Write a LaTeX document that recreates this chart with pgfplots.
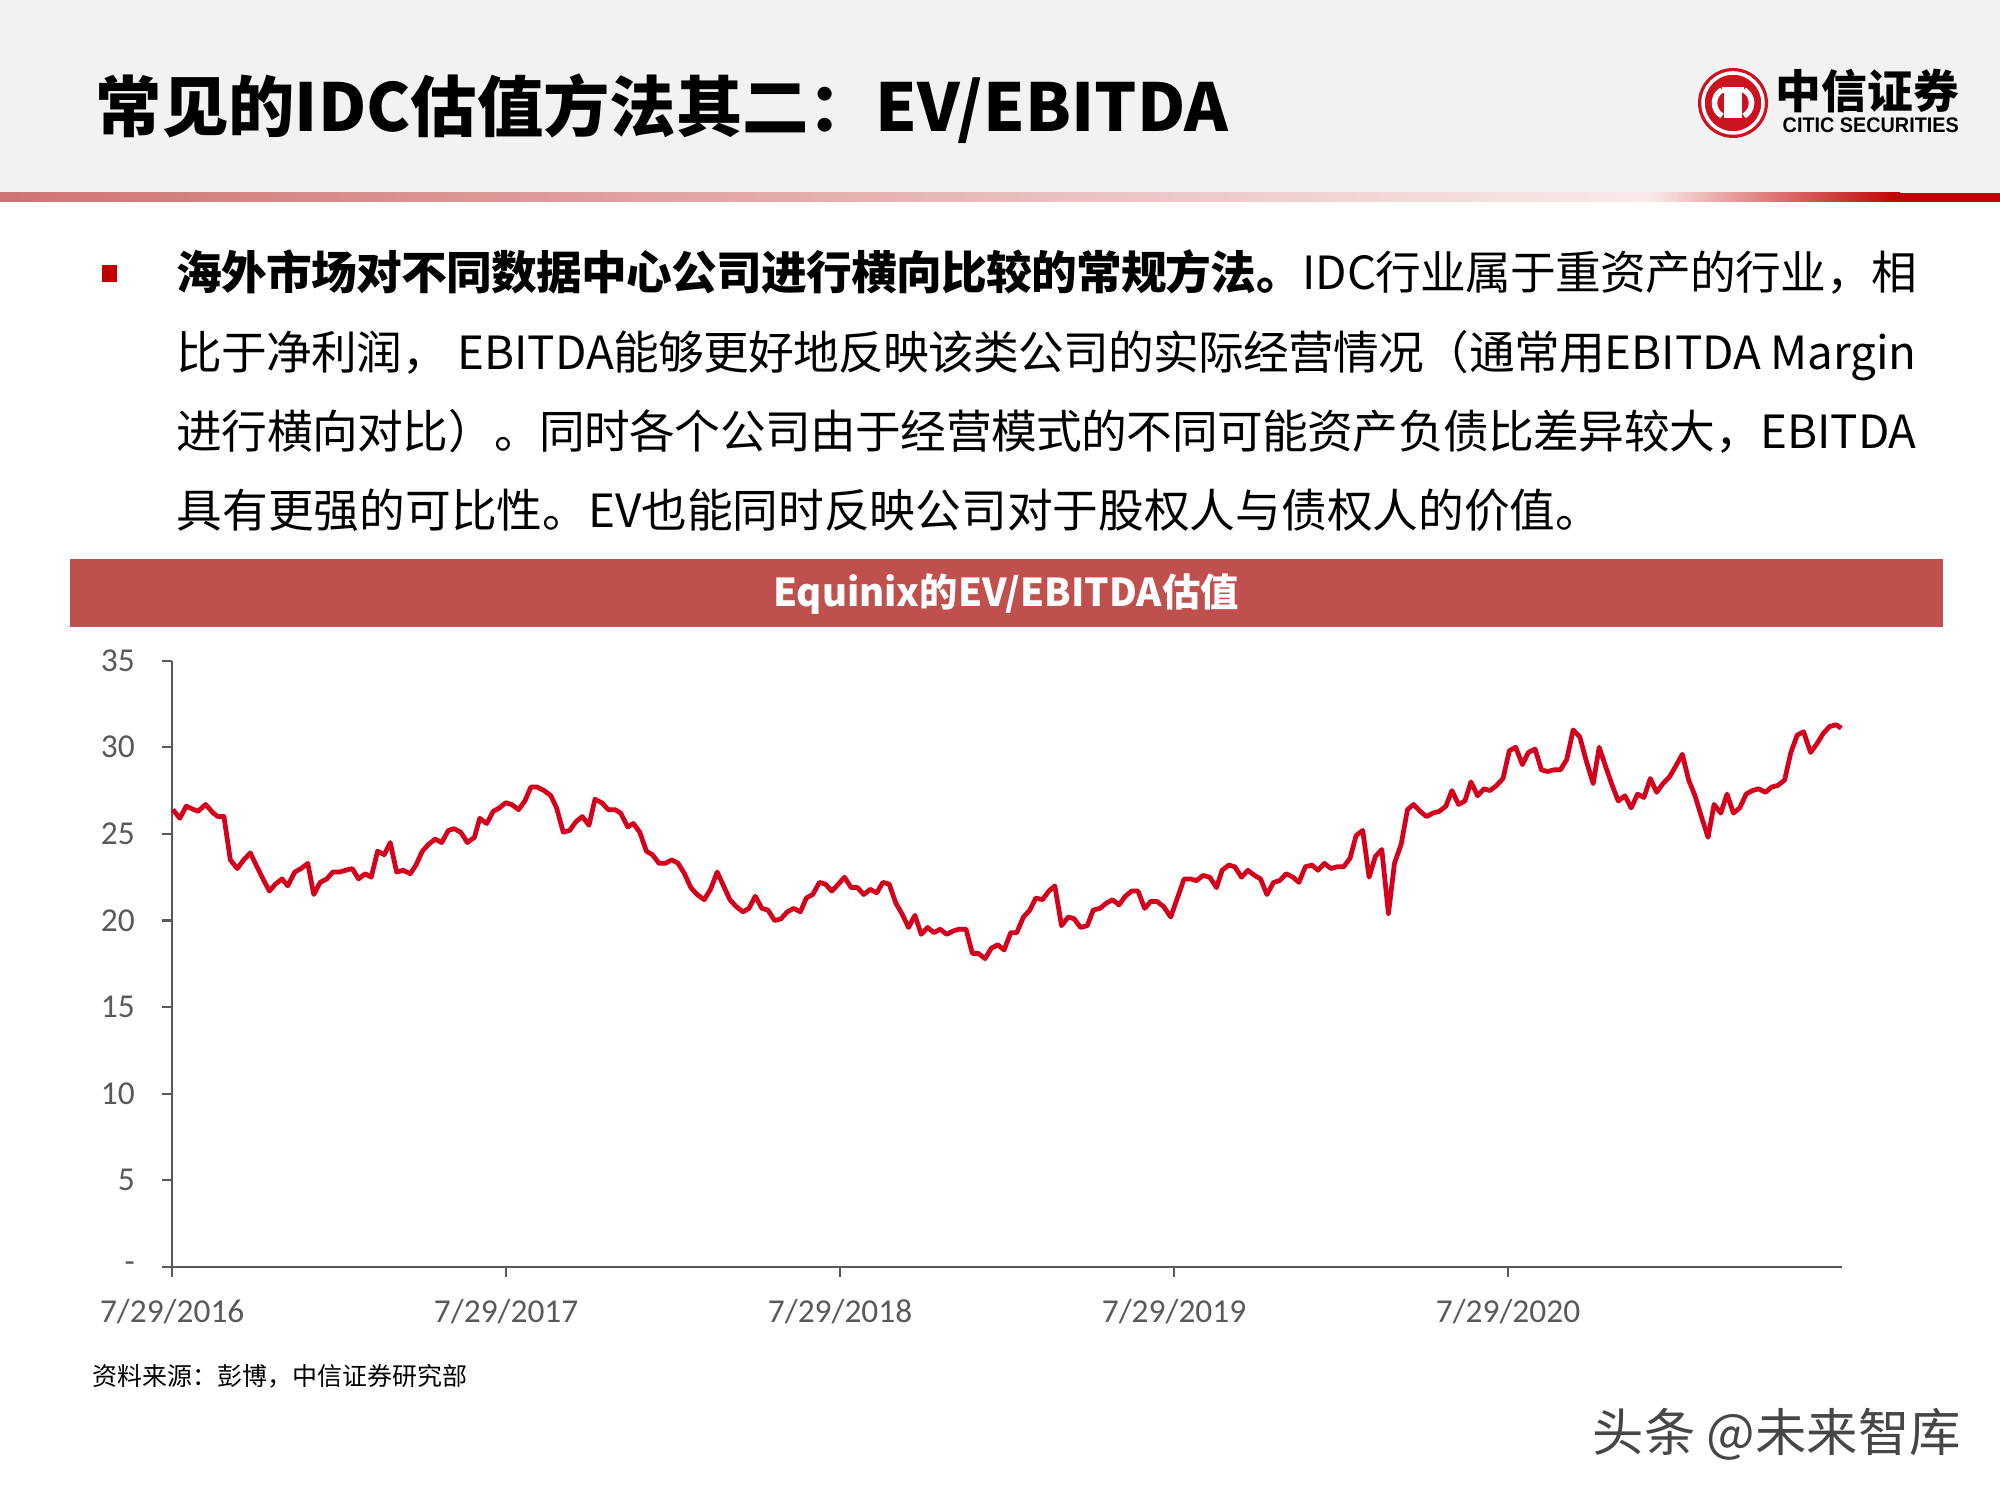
\documentclass[border=0pt]{standalone}
\usepackage{pgfplots}
\pgfplotsset{compat=1.18}
\usepackage{fontspec}
\usepackage{graphicx}
\setmainfont{Carlito}
\newfontfamily\cjk{Noto Sans CJK SC}
\newfontfamily\arial{Liberation Sans}
\definecolor{hdrgray}{RGB}{242,242,242}
\definecolor{band}{RGB}{192,80,77}
\definecolor{linered}{RGB}{213,0,28}
\definecolor{tickgray}{RGB}{89,89,89}
\definecolor{citic}{RGB}{204,18,30}
\definecolor{darkred}{RGB}{192,0,0}
\definecolor{roseL}{RGB}{207,115,115}
\definecolor{roseM}{RGB}{249,234,234}
\definecolor{wmgray}{RGB}{70,70,70}

\begin{document}
\begin{tikzpicture}[x=0.01cm,y=0.01cm]
\path[use as bounding box] (0,0) rectangle (2000,1500);
\fill[white] (0,0) rectangle (2000,1500);
% header
\fill[hdrgray] (0,1307) rectangle (2000,1500);
\shade[left color=roseL, right color=roseM] (0,1298) rectangle (1650,1307);
\shade[left color=roseM, right color=darkred] (1650,1298) rectangle (1900,1307);
\fill[darkred] (1899,1298) rectangle (2000,1307);
\node[anchor=west, inner sep=0] at (95,1391) {\resizebox{11.32cm}{\height}{\cjk\bfseries\fontsize{18.8pt}{20pt}\selectfont 常见的IDC估值方法其二：EV/EBITDA}};
% logo
\fill[citic] (1733,1397) circle (35);
\draw[white, line width=1pt] (1733,1397) circle (30);
\begin{scope}[white, line width=1.6pt]
  \draw (1722,1410) arc (120:240:15);
  \draw (1744,1410) arc (60:-60:15);
  \draw (1722,1410) -- (1744,1410);
  \draw (1727,1410) -- (1727,1382);
  \draw (1733,1410) -- (1733,1382);
  \draw (1739,1410) -- (1739,1382);
\end{scope}
\node[anchor=west, inner sep=0] at (1775,1409) {\resizebox{1.83cm}{\height}{\cjk\bfseries\fontsize{13pt}{14pt}\selectfont 中信证券}};
\node[anchor=west, inner sep=0] at (1782,1375) {\resizebox{1.76cm}{\height}{\arial\bfseries\fontsize{6pt}{7pt}\selectfont CITIC SECURITIES}};
% bullet and text
\fill[darkred] (102,1218) rectangle (117,1235);
\node[anchor=base west, inner sep=0] at (176,1210) {\parbox[t]{17.39cm}{\cjk\fontsize{13pt}{22.48pt}\selectfont
\XeTeXlinebreaklocale "zh"\XeTeXlinebreakskip=0pt plus 3pt minus 0.6pt\parindent=0pt
\textbf{海外市场对不同数据中心公司进行横向比较的常规方法。}IDC行业属于重资产的行业，相\linebreak
比于净利润， EBITDA能够更好地反映该类公司的实际经营情况（通常用EBITDA Margin\linebreak
进行横向对比）。同时各个公司由于经营模式的不同可能资产负债比差异较大，EBITDA\linebreak
具有更强的可比性。EV也能同时反映公司对于股权人与债权人的价值。}};
% chart title band
\fill[band] (70,873) rectangle (1943,941);
\node[text=white, inner sep=0] at (1006,906) {\cjk\bfseries\fontsize{10.9pt}{12pt}\selectfont Equinix的EV/EBITDA估值};
% chart
\coordinate (axorig) at (172.2,233);
\begin{axis}[
  at={(axorig)}, anchor=south west,
  scale only axis, width=16.688cm, height=6.06cm,
  xmin=0, xmax=5, ymin=0, ymax=35,
  axis x line=bottom, axis y line=left,
  axis line style={-, draw=tickgray, line width=0.6pt},
  xtick={0,1,2,3,4},
  xticklabels={7/29/2016,7/29/2017,7/29/2018,7/29/2019,7/29/2020},
  ytick={0,5,...,35},
  yticklabels={-,5,10,15,20,25,30,35},
  tick align=outside, major tick length=0.1cm,
  tick style={draw=tickgray, line width=0.6pt},
  minor tick num=0,
  ticklabel style={font=\fontsize{9.5pt}{11pt}\selectfont, text=tickgray},
  yticklabel style={anchor=east, xshift=-0.15cm},
  xticklabel style={anchor=north, yshift=-0.1cm},
  clip=false,
]
\addplot[linered, line width=1.35pt, line join=round] coordinates {
(0.002,26.4)(0.023,25.9)(0.042,26.6)(0.077,26.3)(0.100,26.7)(0.123,26.2)(0.137,26.0)(0.155,26.0)
(0.174,23.5)(0.195,23.0)(0.214,23.5)(0.234,23.9)(0.254,23.1)(0.272,22.4)(0.291,21.7)(0.309,22.1)
(0.329,22.4)(0.346,22.0)(0.367,22.8)(0.386,23.0)(0.406,23.3)(0.424,21.5)(0.443,22.2)(0.463,22.4)
(0.481,22.8)(0.501,22.8)(0.520,22.9)(0.539,23.0)(0.558,22.4)(0.578,22.7)(0.596,22.5)(0.615,24.0)
(0.635,23.8)(0.653,24.5)(0.672,22.8)(0.692,22.9)(0.713,22.7)(0.730,23.2)(0.749,24.0)(0.768,24.4)
(0.787,24.7)(0.807,24.5)(0.827,25.2)(0.844,25.3)(0.864,25.1)(0.884,24.5)(0.905,24.8)(0.921,25.9)
(0.942,25.6)(0.961,26.3)(0.980,26.5)(0.999,26.8)(1.016,26.7)(1.037,26.4)(1.056,26.9)(1.074,27.7)
(1.093,27.7)(1.114,27.5)(1.134,27.2)(1.151,26.5)(1.171,25.1)(1.190,25.2)(1.209,25.7)(1.228,26.0)
(1.248,25.5)(1.266,27.0)(1.286,26.8)(1.306,26.4)(1.326,26.4)(1.343,26.2)(1.364,25.4)(1.381,25.6)
(1.400,25.1)(1.420,24.0)(1.438,23.8)(1.458,23.3)(1.477,23.3)(1.496,23.5)(1.515,23.3)(1.534,22.7)
(1.553,21.9)(1.572,21.5)(1.593,21.2)(1.612,21.8)(1.632,22.8)(1.651,22.0)(1.670,21.2)(1.689,20.8)
(1.709,20.5)(1.727,20.7)(1.746,21.4)(1.766,20.7)(1.784,20.6)(1.804,20.0)(1.823,20.1)(1.842,20.5)
(1.861,20.7)(1.881,20.5)(1.899,21.3)(1.918,21.5)(1.938,22.2)(1.956,22.1)(1.975,21.7)(1.995,22.1)
(2.013,22.5)(2.033,21.9)(2.052,21.9)(2.071,21.5)(2.090,21.8)(2.110,21.6)(2.128,22.2)(2.147,22.1)
(2.167,21.0)(2.185,20.4)(2.205,19.6)(2.224,20.3)(2.243,19.2)(2.262,19.6)(2.281,19.3)(2.300,19.5)
(2.319,19.2)(2.339,19.4)(2.357,19.5)(2.377,19.5)(2.396,18.1)(2.414,18.1)(2.434,17.8)(2.453,18.4)
(2.472,18.6)(2.491,18.3)(2.511,19.3)(2.529,19.3)(2.549,20.2)(2.568,20.6)(2.586,21.3)(2.606,21.2)
(2.625,21.7)(2.643,22.0)(2.663,19.7)(2.683,20.2)(2.701,20.1)(2.720,19.6)(2.740,19.7)(2.758,20.6)
(2.778,20.7)(2.797,21.0)(2.816,21.2)(2.835,20.9)(2.854,21.4)(2.873,21.7)(2.892,21.7)(2.912,20.7)
(2.930,21.1)(2.949,21.1)(2.969,20.8)(2.990,20.2)(3.010,21.3)(3.030,22.4)(3.049,22.4)(3.067,22.3)
(3.087,22.6)(3.107,22.5)(3.127,21.9)(3.144,22.9)(3.164,23.2)(3.182,23.1)(3.202,22.5)(3.221,22.9)
(3.241,22.6)(3.259,22.4)(3.278,21.5)(3.298,22.2)(3.316,22.3)(3.336,22.7)(3.356,22.5)(3.374,22.2)
(3.393,23.1)(3.413,23.2)(3.431,22.9)(3.450,23.3)(3.470,23.0)(3.488,23.1)(3.508,23.1)(3.527,23.6)
(3.545,24.9)(3.565,25.2)(3.584,22.5)(3.603,23.7)(3.622,24.1)(3.642,20.4)(3.660,23.3)(3.680,24.4)
(3.699,26.4)(3.717,26.7)(3.737,26.3)(3.756,26.0)(3.775,26.2)(3.794,26.3)(3.814,26.6)(3.832,27.5)
(3.852,26.7)(3.871,26.9)(3.889,28.0)(3.909,27.2)(3.928,27.6)(3.946,27.5)(3.966,27.8)(3.985,28.2)
(4.004,29.8)(4.023,30.0)(4.043,29.0)(4.061,29.7)(4.081,29.9)(4.100,28.7)(4.118,28.6)(4.138,28.7)
(4.157,28.7)(4.176,29.3)(4.195,31.0)(4.215,30.6)(4.233,29.3)(4.255,27.9)(4.273,30.0)(4.292,28.9)
(4.312,27.8)(4.330,26.9)(4.350,27.2)(4.369,26.5)(4.388,27.3)(4.407,27.1)(4.426,28.2)(4.445,27.4)
(4.464,27.9)(4.484,28.3)(4.502,28.9)(4.522,29.6)(4.541,28.1)(4.560,27.2)(4.579,26.0)(4.599,24.8)
(4.617,26.7)(4.637,26.2)(4.656,27.3)(4.675,26.2)(4.694,26.5)(4.713,27.3)(4.732,27.5)(4.751,27.6)
(4.771,27.4)(4.789,27.7)(4.808,27.8)(4.828,28.1)(4.847,29.7)(4.866,30.7)(4.885,30.9)(4.906,29.7)
(4.925,30.2)(4.944,30.8)(4.963,31.2)(4.983,31.3)(4.998,31.1)
};
\end{axis}
% source and watermark
\node[anchor=west, inner sep=0] at (92,124) {\cjk\fontsize{7.1pt}{8pt}\selectfont 资料来源：彭博，中信证券研究部};
\node[anchor=west, inner sep=0, text=wmgray] at (1592,66) {\cjk\fontsize{14.6pt}{16pt}\selectfont 头条 @未来智库};
\end{tikzpicture}
\end{document}
